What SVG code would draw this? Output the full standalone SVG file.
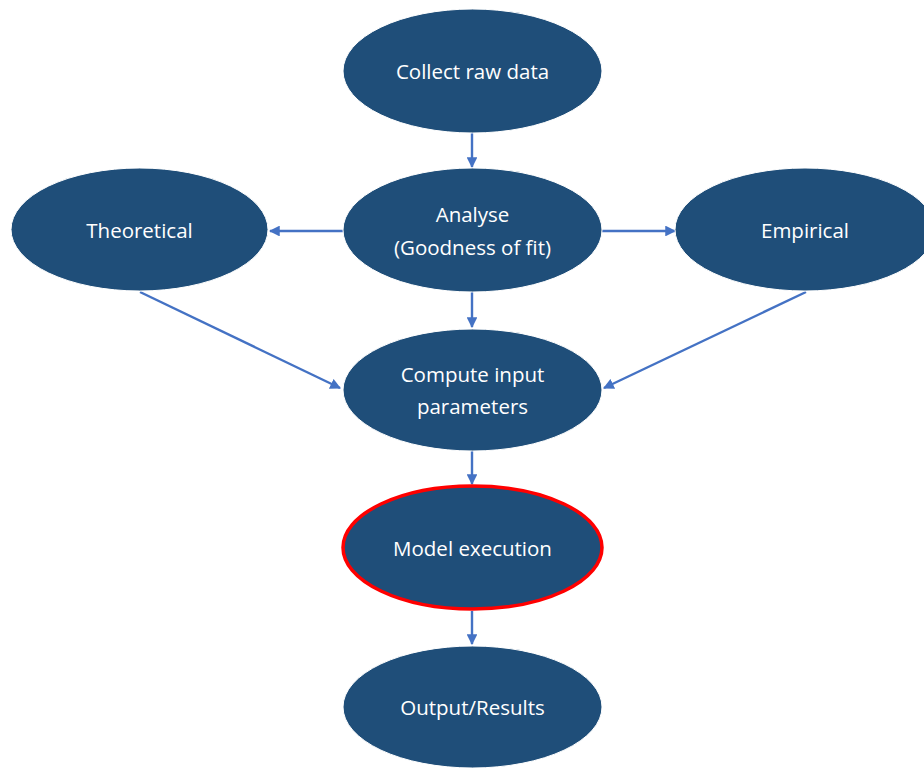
<svg xmlns="http://www.w3.org/2000/svg" width="924" height="768" viewBox="0 0 924 768">
<style>
.node ellipse{fill:#1f4e79;stroke:#ffffff;stroke-width:1}
.node text{fill:#ffffff;font-family:"Open Sans","Liberation Sans",sans-serif;font-size:20.5px;text-anchor:middle}
.conn line{stroke:#4472c4;stroke-width:2.4;fill:none}
</style>
<defs>
<marker id="ah" viewBox="0 0 10 10" refX="9" refY="5" markerWidth="4.5" markerHeight="4.5" orient="auto" markerUnits="strokeWidth">
<path d="M0,0 L10,5 L0,10 z" fill="#4472c4"/>
</marker>
</defs>
<rect width="924" height="768" fill="#ffffff"/>
<g class="conn">
<line x1="472" y1="133" x2="472" y2="167" marker-end="url(#ah)"/>
<line x1="343" y1="231" x2="270" y2="231" marker-end="url(#ah)"/>
<line x1="602" y1="231" x2="675" y2="231" marker-end="url(#ah)"/>
<line x1="472" y1="292" x2="472" y2="327" marker-end="url(#ah)"/>
<line x1="140" y1="292" x2="340" y2="388" marker-end="url(#ah)"/>
<line x1="806" y1="292" x2="604" y2="388" marker-end="url(#ah)"/>
<line x1="472" y1="451" x2="472" y2="484" marker-end="url(#ah)"/>
<line x1="472" y1="611" x2="472" y2="644" marker-end="url(#ah)"/>
</g>
<g id="collect" class="node">
<ellipse cx="472.5" cy="71" rx="129.5" ry="62"/>
<text x="472.5" y="79">Collect raw data</text>
</g>
<g id="analyse" class="node">
<ellipse cx="472.5" cy="230" rx="129.5" ry="62"/>
<text x="472.5" y="222">Analyse</text>
<text x="472.5" y="255">(Goodness of fit)</text>
</g>
<g id="theoretical" class="node">
<ellipse cx="139.5" cy="229.5" rx="128.5" ry="61.5"/>
<text x="139.5" y="238">Theoretical</text>
</g>
<g id="empirical" class="node">
<ellipse cx="805" cy="229.5" rx="130" ry="61.5"/>
<text x="805" y="238">Empirical</text>
</g>
<g id="compute" class="node">
<ellipse cx="472.5" cy="390" rx="129.5" ry="61"/>
<text x="472.5" y="382">Compute input</text>
<text x="472.5" y="414">parameters</text>
</g>
<g id="model" class="node">
<ellipse cx="472.5" cy="547.5" rx="129.5" ry="61.5" style="stroke:#ff0000;stroke-width:3.5"/>
<text x="472.5" y="556">Model execution</text>
</g>
<g id="output" class="node">
<ellipse cx="472.5" cy="707" rx="129.5" ry="61"/>
<text x="472.5" y="715">Output/Results</text>
</g>
</svg>
